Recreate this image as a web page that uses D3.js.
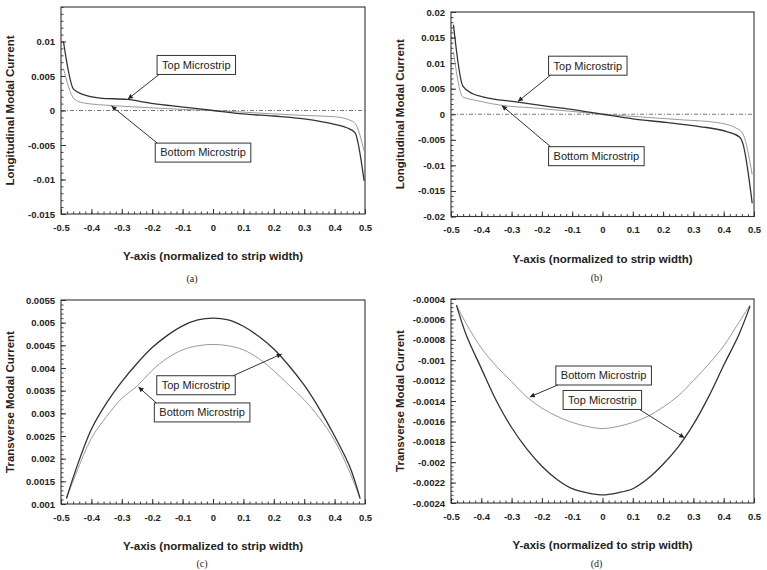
<!DOCTYPE html>
<html>
<head>
<meta charset="utf-8">
<script src="https://cdnjs.cloudflare.com/ajax/libs/d3/7.8.5/d3.min.js"></script>
<style>
body { margin:0; background:#fff; }
svg { display:block; }
.tick text { font-family:"Liberation Sans", Arial, sans-serif; font-weight:bold; font-size:9.5px; fill:#222; }
.title { font-family:"Liberation Sans", Arial, sans-serif; font-weight:bold; font-size:11.5px; fill:#222; }
.note { font-family:"Liberation Sans", Arial, sans-serif; font-size:11px; fill:#222; }
.cap { font-family:"Liberation Serif", "Times New Roman", serif; font-size:10px; fill:#222; }
</style>
</head>
<body>
<div id="d3"></div>
<script>
// x axis ticks, normalized to strip width
var xTickVals = [-0.5, -0.4, -0.3, -0.2, -0.1, 0, 0.1, 0.2, 0.3, 0.4, 0.5];

// (a) longitudinal modal current
var aTopX = [-0.492, -0.459, -0.426, -0.371, -0.283, -0.196, -0.097, 0, 0.1, 0.2, 0.3, 0.4, 0.44, 0.467, 0.497];
var aTopY = [0.01, 0.0031, 0.0023, 0.0018, 0.0016, 0.001, 0.0005, 0, -0.0005, -0.0008, -0.0012, -0.002, -0.0025, -0.0032, -0.0102];
var aBotX = [-0.492, -0.457, -0.426, -0.327, -0.207, -0.1, 0, 0.1, 0.29, 0.4, 0.45, 0.468, 0.497];
var aBotY = [0.0061, 0.0017, 0.0011, 0.0007, 0.0004, 0.00015, 0, -0.00024, -0.0007, -0.0009, -0.0014, -0.0019, -0.0059];
var aYTicks = [-0.015, -0.01, -0.005, 0, 0.005, 0.01];

// (b) longitudinal modal current
var bTopX = [-0.492, -0.461, -0.428, -0.395, -0.285, -0.175, -0.109, 0, 0.1, 0.21, 0.32, 0.41, 0.453, 0.464, 0.494];
var bTopY = [0.0175, 0.0055, 0.004, 0.0034, 0.0024, 0.0015, 0.001, 0, -0.0009, -0.0016, -0.0024, -0.0034, -0.0045, -0.0059, -0.0174];
var bBotX = [-0.492, -0.461, -0.417, -0.329, -0.23, -0.109, 0, 0.11, 0.265, 0.375, 0.447, 0.464, 0.494];
var bBotY = [0.0122, 0.0034, 0.0027, 0.0017, 0.00125, 0.0006, 0, -0.00046, -0.0011, -0.0016, -0.0029, -0.0039, -0.0118];
var bYTicks = [-0.02, -0.015, -0.01, -0.005, 0, 0.005, 0.01, 0.015, 0.02];

// (c) transverse modal current
var cX = [-0.482, -0.45, -0.4, -0.35, -0.3, -0.25, -0.2, -0.15, -0.1, -0.05, 0, 0.05, 0.1, 0.15, 0.2, 0.25, 0.3, 0.35, 0.4, 0.45, 0.484];
var cTopY = [0.00112, 0.00178, 0.00265, 0.00323, 0.0037, 0.0041, 0.00445, 0.00472, 0.00493, 0.00506, 0.0051,
             0.00506, 0.00492, 0.0047, 0.00442, 0.00405, 0.00362, 0.0031, 0.0025, 0.00182, 0.00112];
var cBotY = [0.00112, 0.00168, 0.00245, 0.00293, 0.00333, 0.0036, 0.00395, 0.00422, 0.0044, 0.00449, 0.00452,
             0.00449, 0.0044, 0.00421, 0.00394, 0.00362, 0.0033, 0.0029, 0.0024, 0.0017, 0.00112];
var cYTicks = [0.001, 0.0015, 0.002, 0.0025, 0.003, 0.0035, 0.004, 0.0045, 0.005, 0.0055];

// (d) transverse modal current
var dX = [-0.482, -0.45, -0.4, -0.35, -0.3, -0.25, -0.2, -0.15, -0.1, -0.05, 0, 0.05, 0.1, 0.15, 0.2, 0.25, 0.3, 0.35, 0.4, 0.45, 0.487];
var dTopY = [-0.00046, -0.00075, -0.00108, -0.0014, -0.00166, -0.00187, -0.00204, -0.00217, -0.00226, -0.0023, -0.00232,
             -0.0023, -0.00226, -0.00216, -0.00202, -0.00185, -0.00163, -0.00136, -0.00105, -0.00075, -0.00047];
var dBotY = [-0.00046, -0.00064, -0.00088, -0.00106, -0.00121, -0.00136, -0.00147, -0.00155, -0.00161, -0.00165, -0.00167,
             -0.00165, -0.00161, -0.00155, -0.00146, -0.00135, -0.0012, -0.00104, -0.00086, -0.00063, -0.00046];
var dYTicks = [-0.0024, -0.0022, -0.002, -0.0018, -0.0016, -0.0014, -0.0012, -0.001, -0.0008, -0.0006, -0.0004];

function zip(xs, ys) {
    return xs.map(function(v, i){ return {x: v, y: ys[i]}; });
}

var panels = [
    {cap:"(a)", capDx:-21, capDy:64, left:61, top:7, width:304, height:207, yDomain:[-0.015, 0.015], yTicks:aYTicks,
     yTitle:"Longitudinal Modal Current", zero:true, curve:d3.curveMonotoneX,
     topLine:zip(aTopX, aTopY), botLine:zip(aBotX, aBotY),
     notes:[{text:"Top Microstrip", bx:-0.184, by:0.0066, corner:"bl", tx:-0.28, ty:0.00165},
            {text:"Bottom Microstrip", bx:-0.19, by:-0.0061, corner:"tl", tx:-0.334, ty:0.00065}]},
    {cap:"(b)", capDx:-6, capDy:61, left:451, top:12, width:303, height:204.5, yDomain:[-0.02, 0.02], yTicks:bYTicks,
     yTitle:"Longitudinal Modal Current", zero:true, curve:d3.curveMonotoneX,
     topLine:zip(bTopX, bTopY), botLine:zip(bBotX, bBotY),
     notes:[{text:"Top Microstrip", bx:-0.178, by:0.0095, corner:"bl", tx:-0.279, ty:0.0025},
            {text:"Bottom Microstrip", bx:-0.178, by:-0.0082, corner:"tl", tx:-0.332, ty:0.0017}]},
    {cap:"(c)", capDx:-11, capDy:59, left:61, top:300, width:304, height:204, yDomain:[0.001, 0.0055], yTicks:cYTicks,
     yTitle:"Transverse Modal Current", zero:false, curve:d3.curveCatmullRom,
     topLine:zip(cX, cTopY), botLine:zip(cX, cBotY),
     notes:[{text:"Top Microstrip", bx:-0.185, by:0.00362, corner:"tr", tx:0.226, ty:0.00431},
            {text:"Bottom Microstrip", bx:-0.193, by:0.00302, corner:"tl", tx:-0.245, ty:0.00358}]},
    {cap:"(d)", capDx:-6, capDy:60, left:451, top:299, width:303, height:204, yDomain:[-0.0024, -0.0004], yTicks:dYTicks,
     yTitle:"Transverse Modal Current", zero:false, curve:d3.curveCatmullRom,
     topLine:zip(dX, dTopY), botLine:zip(dX, dBotY),
     notes:[{text:"Bottom Microstrip", bx:-0.154, by:-0.00115, corner:"bl", tx:-0.24, ty:-0.00136},
            {text:"Top Microstrip", bx:-0.13, by:-0.00139, corner:"br", tx:0.27, ty:-0.00176}]}
];

function fmt(d) { return String(+d.toFixed(6)); }

var svg = d3.select("#d3").append("svg").attr("width", 767).attr("height", 570);

svg.append("defs").append("marker")
    .attr("id", "arrow")
    .attr("viewBox", "0 0 10 10")
    .attr("refX", 10).attr("refY", 5)
    .attr("markerWidth", 8).attr("markerHeight", 5)
    .attr("markerUnits", "userSpaceOnUse")
    .attr("orient", "auto")
    .append("path").attr("d", "M0,0L10,5L0,10z").attr("fill", "#222");

panels.forEach(function(p){
    var g = svg.append("g").attr("transform", "translate(" + p.left + "," + p.top + ")");
    var x = d3.scaleLinear().domain([-0.5, 0.5]).range([0, p.width]);
    var y = d3.scaleLinear().domain(p.yDomain).range([p.height, 0]);

    // minor ticks first
    var xMinor = d3.range(-0.5, 0.5001, 0.02);
    var yStep = (p.yTicks[1] - p.yTicks[0]) / 5;
    var yMinor = d3.range(p.yDomain[0], p.yDomain[1] + yStep / 2, yStep);

    g.append("g").attr("transform", "translate(0," + p.height + ")")
        .call(d3.axisBottom(x).tickValues(xMinor).tickFormat("").tickSizeInner(-2.5).tickSizeOuter(0))
        .call(function(s){ s.select(".domain").remove(); s.selectAll("line").attr("stroke", "#444"); });
    g.append("g")
        .call(d3.axisLeft(y).tickValues(yMinor).tickFormat("").tickSizeInner(-2.5).tickSizeOuter(0))
        .call(function(s){ s.select(".domain").remove(); s.selectAll("line").attr("stroke", "#444"); });

    g.append("g").attr("class", "x axis").attr("transform", "translate(0," + p.height + ")")
        .call(d3.axisBottom(x).tickValues(xTickVals).tickFormat(fmt).tickSizeInner(-5).tickSizeOuter(0).tickPadding(10))
        .call(function(s){ s.select(".domain").remove(); s.selectAll("line").attr("stroke", "#333"); });
    g.append("g").attr("class", "y axis")
        .call(d3.axisLeft(y).tickValues(p.yTicks).tickFormat(fmt).tickSizeInner(-5).tickSizeOuter(0).tickPadding(6))
        .call(function(s){ s.select(".domain").remove(); s.selectAll("line").attr("stroke", "#333"); });

    // frame
    g.append("rect").attr("width", p.width).attr("height", p.height)
        .attr("fill", "none").attr("stroke", "#333").attr("stroke-width", 1.1);

    if (p.zero) {
        g.append("line").attr("x1", 0).attr("x2", p.width).attr("y1", y(0)).attr("y2", y(0))
            .attr("stroke", "#555").attr("stroke-width", 0.8).attr("stroke-dasharray", "4,2,1,2");
    }

    var line = d3.line()
        .x(function(d){ return x(d.x); })
        .y(function(d){ return y(d.y); })
        .curve(p.curve);

    g.append("path").attr("d", line(p.botLine))
        .attr("fill", "none").attr("stroke", "#9a9a9a").attr("stroke-width", 1);
    g.append("path").attr("d", line(p.topLine))
        .attr("fill", "none").attr("stroke", "#333").attr("stroke-width", 1.3);

    // annotations
    p.notes.forEach(function(n){
        var bx = x(n.bx), cy = y(n.by);
        var t = g.append("text").attr("class", "note")
            .attr("x", bx + 5).attr("y", cy).attr("dy", "0.35em").text(n.text);
        var w = t.node().getComputedTextLength() + 10, h = 19;
        g.insert("rect", function(){ return t.node(); })
            .attr("x", bx).attr("y", cy - h / 2).attr("width", w).attr("height", h)
            .attr("fill", "#fff").attr("stroke", "#333").attr("stroke-width", 1);
        var sx = n.corner.charAt(1) === "l" ? bx + 2 : bx + w - 2;
        var sy = n.corner.charAt(0) === "t" ? cy - h / 2 : cy + h / 2;
        g.append("line").attr("x1", sx).attr("y1", sy).attr("x2", x(n.tx)).attr("y2", y(n.ty))
            .attr("stroke", "#333").attr("stroke-width", 1).attr("marker-end", "url(#arrow)");
    });

    // titles
    svg.append("text").attr("class", "title")
        .attr("transform", "translate(" + (p.left - 51) + "," + (p.top + p.height / 2) + ")rotate(-90)")
        .attr("text-anchor", "middle").attr("dy", "0.35em").text(p.yTitle);
    svg.append("text").attr("class", "title")
        .attr("x", p.left + p.width / 2).attr("y", p.top + p.height + 42)
        .attr("text-anchor", "middle").attr("dy", "0.35em").text("Y-axis (normalized to strip width)");
    svg.append("text").attr("class", "cap")
        .attr("x", p.left + p.width / 2 + p.capDx).attr("y", p.top + p.height + p.capDy)
        .attr("text-anchor", "middle").attr("dy", "0.35em").text(p.cap);
});
</script>
</body>
</html>
